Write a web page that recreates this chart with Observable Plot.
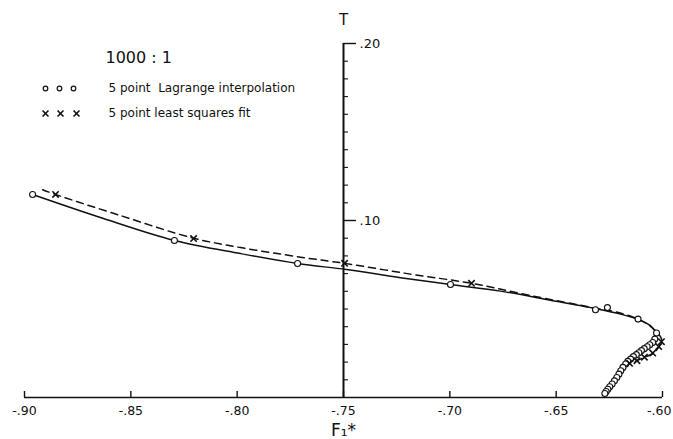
<!DOCTYPE html>
<html>
<head>
<meta charset="utf-8">
<script src="https://cdn.jsdelivr.net/npm/d3@7"></script>
<script src="https://cdn.jsdelivr.net/npm/@observablehq/plot@0.6"></script>
<style>
  html, body { margin: 0; padding: 0; background: #fff; }
  #chart { width: 673px; height: 439px; }
</style>
</head>
<body>
<div id="chart"></div>
<script>
// ---- Data ----
// Circles: 5 point Lagrange interpolation
const lagrangeX = [-0.8962, -0.8295, -0.7716, -0.6997, -0.6315, -0.6259, -0.6115, -0.6028,
  -0.6036, -0.6046, -0.6060, -0.6072, -0.6086, -0.6099, -0.6111, -0.6123, -0.6137, -0.6150,
  -0.6163, -0.6173, -0.6186, -0.6196, -0.6205, -0.6215, -0.6226, -0.6237, -0.6248, -0.6257,
  -0.6265, -0.6271];
const lagrangeY = [0.1147, 0.0887, 0.0757, 0.0638, 0.0496, 0.0508, 0.0443, 0.0364,
  0.0330, 0.0311, 0.0298, 0.0287, 0.0276, 0.0265, 0.0253, 0.0242, 0.0231, 0.0217,
  0.0204, 0.0189, 0.0170, 0.0151, 0.0132, 0.0113, 0.0094, 0.0076, 0.0061, 0.0047,
  0.0034, 0.0023];

// Crosses: 5 point least squares fit
const lsqX = [-0.8854, -0.8205, -0.7495, -0.6898, -0.6005, -0.6018, -0.6046, -0.6085, -0.6120, -0.6155];
const lsqY = [0.1147, 0.0898, 0.0758, 0.0645, 0.0315, 0.0288, 0.0251, 0.0228, 0.0208, 0.0193];

// Solid curve (Lagrange)
const solidX = [-0.8962, -0.8643, -0.8295, -0.7984, -0.7716, -0.7486, -0.7232, -0.6997,
  -0.6762, -0.6527, -0.6315, -0.6198, -0.6113, -0.6057, -0.6028];
const solidY = [0.1147, 0.1017, 0.0887, 0.0813, 0.0757, 0.0723, 0.0677, 0.0638,
  0.0601, 0.0550, 0.0502, 0.0471, 0.0440, 0.0406, 0.0364];

// Dashed curve (least squares)
const dashedX = [-0.8915, -0.8854, -0.8549, -0.8205, -0.7984, -0.7702, -0.7495, -0.7185,
  -0.6898, -0.6621, -0.6315, -0.6198, -0.6104, -0.6038, -0.6005, -0.6006, -0.6018,
  -0.6044, -0.6088, -0.6120, -0.6156];
const dashedY = [0.1174, 0.1147, 0.1028, 0.0900, 0.0847, 0.0793, 0.0758, 0.0697,
  0.0645, 0.0576, 0.0505, 0.0477, 0.0437, 0.0383, 0.0332, 0.0311, 0.0283,
  0.0249, 0.0226, 0.0208, 0.0192];

// Axes
const xTickValues = [-0.90, -0.85, -0.80, -0.75, -0.70, -0.65, -0.60];
const xTickLabels = ["-.90", "-.85", "-.80", "-.75", "-.70", "-.65", "-.60"];
const yMinorTicks = [0.01, 0.02, 0.03, 0.04, 0.05, 0.06, 0.07, 0.08, 0.09,
  0.11, 0.12, 0.13, 0.14, 0.15, 0.16, 0.17, 0.18, 0.19];
const yLabelValues = [0.1, 0.2];
const yLabels = [".10", ".20"];
const yAxisAt = -0.75;
const xTitle = "F\u2081*";
const yTitle = "T";
const ratioLabel = "1000 : 1";
const legendLabels = ["5 point  Lagrange interpolation", "5 point least squares fit"];

// ---- Build tables ----
const lagrange = lagrangeX.map((x, i) => ({x, y: lagrangeY[i]}));
const lsq = lsqX.map((x, i) => ({x, y: lsqY[i]}));
const solid = solidX.map((x, i) => ({x, y: solidY[i]}));
const dashed = dashedX.map((x, i) => ({x, y: dashedY[i]}));
const xTicks = xTickValues.map((v, i) => ({v, label: xTickLabels[i]}));
const xTicksInner = xTicks.slice(0, -1);
const xTickLast = xTicks.slice(-1);
const yLabelTable = yLabelValues.map((v, i) => ({v, label: yLabels[i]}));

const ink = "#111";
const font = "DejaVu Sans";

const legendMarks = [];
[21, 35, 49].forEach(dx => legendMarks.push(
  Plot.dot([0], {frameAnchor: "top-left", dx, dy: 45, r: 2.3, fill: "white", stroke: ink, strokeWidth: 1.2})
));
[21, 36, 52].forEach(dx => legendMarks.push(
  Plot.dot([0], {frameAnchor: "top-left", dx, dy: 70, r: 2.8, symbol: "times", stroke: ink, strokeWidth: 1.6})
));

const chart = Plot.plot({
  width: 673,
  height: 439,
  marginLeft: 24,
  marginRight: 11,
  marginTop: 43,
  marginBottom: 42,
  style: {fontFamily: font, background: "white", color: ink},
  x: {domain: [xTickValues[0], xTickValues[xTickValues.length - 1]], axis: null},
  y: {domain: [0, 0.2], axis: null},
  marks: [
    // axis lines
    Plot.ruleY([0], {x1: xTickValues[0], x2: xTickValues[xTickValues.length - 1], stroke: ink, strokeWidth: 1.6}),
    Plot.ruleX([yAxisAt], {y1: 0, y2: 0.2, stroke: ink, strokeWidth: 2}),
    // x ticks (upward)
    Plot.ruleX(xTickValues, {y1: 0, y2: 0, insetTop: -6, stroke: ink, strokeWidth: 1.4}),
    Plot.text(xTicksInner, {x: "v", y: 0, dy: 13, text: "label", fontSize: 12.5, fill: ink}),
    Plot.text(xTickLast, {x: "v", y: 0, dy: 13, dx: 9, text: "label", textAnchor: "end", fontSize: 12.5, fill: ink}),
    // y ticks (to the right)
    Plot.ruleY(yMinorTicks, {x1: yAxisAt, x2: yAxisAt, insetRight: -5, stroke: ink, strokeWidth: 1.1}),
    Plot.ruleY(yLabelValues, {x1: yAxisAt, x2: yAxisAt, insetRight: -13, stroke: ink, strokeWidth: 1.4}),
    Plot.text(yLabelTable, {x: yAxisAt, y: "v", dx: 16, text: "label", textAnchor: "start", fontSize: 13, fill: ink, letterSpacing: 3}),
    // titles
    Plot.text([yTitle], {x: yAxisAt, y: 0.2, dy: -23, text: d => d, fontSize: 15, fill: ink}),
    Plot.text([xTitle], {x: yAxisAt, y: 0, dy: 33, text: d => d, fontSize: 17, fill: ink}),
    // curves
    Plot.line(solid, {x: "x", y: "y", curve: "catmull-rom", stroke: ink, strokeWidth: 1.5}),
    Plot.line(dashed, {x: "x", y: "y", curve: "catmull-rom", stroke: ink, strokeWidth: 1.5, strokeDasharray: "7,5"}),
    // points
    Plot.dot(lagrange, {x: "x", y: "y", r: 3, fill: "white", stroke: ink, strokeWidth: 1.1}),
    Plot.dot(lsq, {x: "x", y: "y", r: 3, symbol: "times", stroke: ink, strokeWidth: 1.6}),
    // legend
    Plot.text([ratioLabel], {frameAnchor: "top-left", dx: 81, dy: 14, lineAnchor: "middle", text: d => d, textAnchor: "start", fontSize: 16, fill: ink, letterSpacing: 2.5}),
    Plot.text([legendLabels[0]], {frameAnchor: "top-left", dx: 84, dy: 45, lineAnchor: "middle", text: d => d, textAnchor: "start", fontSize: 12, fill: ink, letterSpacing: 0.9}),
    Plot.text([legendLabels[1]], {frameAnchor: "top-left", dx: 84, dy: 70, lineAnchor: "middle", text: d => d, textAnchor: "start", fontSize: 12, fill: ink, letterSpacing: 1.5}),
    ...legendMarks
  ]
});
document.getElementById("chart").appendChild(chart);
</script>
</body>
</html>
